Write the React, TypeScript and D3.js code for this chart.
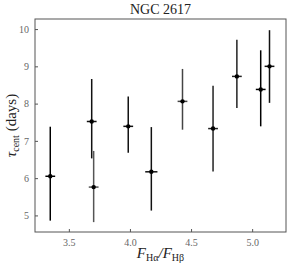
import React, { useEffect, useRef } from "react";
import * as d3 from "d3";

// flux ratio F(Ha)/F(Hb) and centroid lag
const ratio = [3.348, 3.687, 3.703, 3.986, 4.175, 4.43, 4.68, 4.875, 5.07, 5.142];
const tau = [6.05, 7.52, 5.76, 7.39, 6.17, 8.06, 7.33, 8.73, 8.38, 9.0];
const tauHi = [7.38, 8.66, 6.73, 8.19, 7.37, 8.93, 8.48, 9.71, 9.43, 9.97];
const tauLo = [4.86, 6.53, 4.82, 6.68, 5.13, 7.3, 6.18, 7.88, 7.39, 8.02];
const ratioErr = [0.04, 0.04, 0.04, 0.04, 0.05, 0.04, 0.04, 0.04, 0.04, 0.04];
const barShade = ["#000", "#111", "#555", "#111", "#111", "#444", "#222", "#222", "#000", "#111"];

const xTicks = [3.5, 4.0, 4.5, 5.0];
const yTicks = [5, 6, 7, 8, 9, 10];

const W = 291;
const H = 268;
const margin = { top: 19, right: 5, bottom: 36, left: 35 };

const App = () => {
  const ref = useRef<SVGSVGElement>(null);

  useEffect(() => {
    const svg = d3.select(ref.current);
    svg.selectAll("*").remove();

    const x = d3.scaleLinear().domain([3.223, 5.277]).range([margin.left, W - margin.right]);
    const y = d3.scaleLinear().domain([4.555, 10.27]).range([H - margin.bottom, margin.top]);
    const font = "'Liberation Serif', 'Times New Roman', serif";

    // Frame
    svg
      .append("rect")
      .attr("x", margin.left)
      .attr("y", margin.top)
      .attr("width", W - margin.left - margin.right)
      .attr("height", H - margin.top - margin.bottom)
      .attr("fill", "none")
      .attr("stroke", "#555")
      .attr("stroke-width", 1);

    // Axes with inward ticks
    const gx = svg
      .append("g")
      .attr("transform", `translate(0, ${H - margin.bottom})`)
      .call(d3.axisBottom(x).tickValues(xTicks).tickFormat(d3.format(".1f")).tickSizeInner(-3).tickSizeOuter(0).tickPadding(7));
    const gy = svg
      .append("g")
      .attr("transform", `translate(${margin.left}, 0)`)
      .call(d3.axisLeft(y).tickValues(yTicks).tickFormat(d3.format("d")).tickSizeInner(-3).tickSizeOuter(0).tickPadding(6));
    [gx, gy].forEach((g) => {
      g.select(".domain").remove();
      g.selectAll("line").attr("stroke", "#555");
      g.selectAll("text").attr("font-family", font).attr("font-size", 10).attr("fill", "#666");
    });

    // Error bars
    const pts = ratio.map((r, i) => ({ r, t: tau[i], hi: tauHi[i], lo: tauLo[i], dx: ratioErr[i], c: barShade[i] }));
    const g = svg.append("g");
    pts.forEach((p) => {
      g.append("line")
        .attr("x1", x(p.r)).attr("x2", x(p.r))
        .attr("y1", y(p.hi)).attr("y2", y(p.lo))
        .attr("stroke", p.c).attr("stroke-width", 1.5);
      g.append("line")
        .attr("x1", x(p.r - p.dx)).attr("x2", x(p.r + p.dx))
        .attr("y1", y(p.t)).attr("y2", y(p.t))
        .attr("stroke", p.c).attr("stroke-width", 1.5);
      g.append("circle")
        .attr("cx", x(p.r)).attr("cy", y(p.t))
        .attr("r", 2.2).attr("fill", "#000");
    });

    // Title
    svg
      .append("text")
      .attr("x", (margin.left + W - margin.right) / 2)
      .attr("y", 14)
      .attr("text-anchor", "middle")
      .attr("font-family", font)
      .attr("font-size", 14)
      .attr("fill", "#222")
      .text("NGC 2617");

    // X label
    const xl = svg
      .append("text")
      .attr("x", (margin.left + W - margin.right) / 2)
      .attr("y", 258)
      .attr("text-anchor", "middle")
      .attr("font-family", font)
      .attr("font-size", 15)
      .attr("fill", "#222");
    xl.append("tspan").attr("font-style", "italic").text("F");
    xl.append("tspan").attr("font-size", 10).attr("dy", 3).text("Hα");
    xl.append("tspan").attr("dy", -3).attr("font-style", "italic").text("/F");
    xl.append("tspan").attr("font-size", 10).attr("dy", 3).text("Hβ");

    // Y label
    const yl = svg
      .append("text")
      .attr("transform", `translate(16, ${(margin.top + H - margin.bottom) / 2}) rotate(-90)`)
      .attr("text-anchor", "middle")
      .attr("font-family", font)
      .attr("font-size", 15)
      .attr("fill", "#222");
    yl.append("tspan").attr("font-style", "italic").text("τ");
    yl.append("tspan").attr("font-size", 10).attr("dy", 3).text("cent");
    yl.append("tspan").attr("dy", -3).text(" (days)");
  }, []);

  return <svg ref={ref} width={W} height={H} style={{ position: "absolute", left: 0, top: 0 }} />;
};

export default App;
